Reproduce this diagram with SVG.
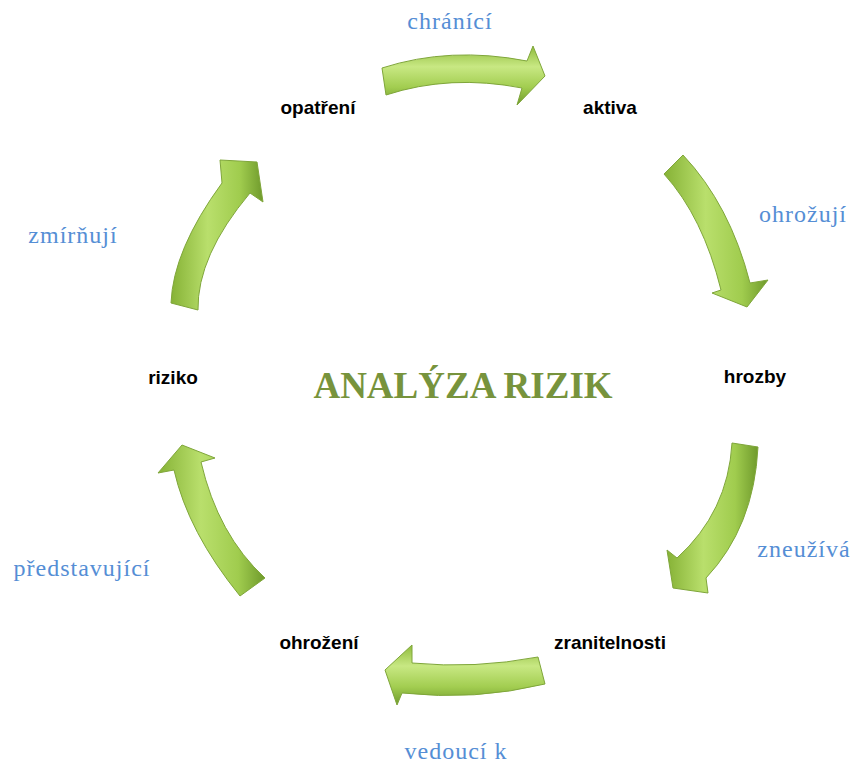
<svg xmlns="http://www.w3.org/2000/svg" width="854" height="766" viewBox="0 0 854 766">
<defs>
<linearGradient id="gH" x1="0" y1="0" x2="0" y2="1">
<stop offset="0" stop-color="#8fbb3c"/>
<stop offset="0.35" stop-color="#c8e883"/>
<stop offset="0.7" stop-color="#a2cd50"/>
<stop offset="1" stop-color="#6f9a2c"/>
</linearGradient>
<linearGradient id="gV" x1="0" y1="0" x2="1" y2="0">
<stop offset="0" stop-color="#86b236"/>
<stop offset="0.4" stop-color="#b9df6c"/>
<stop offset="0.75" stop-color="#a0cc4e"/>
<stop offset="1" stop-color="#6f9a2c"/>
</linearGradient>
<style>
.arr{stroke:#7fa63a;stroke-width:1;stroke-linejoin:round}
.node{font-family:"Liberation Sans",Arial,sans-serif;font-weight:bold;font-size:19px;fill:#000}
.lbl{font-family:"Liberation Serif","Times New Roman",serif;font-size:24px;letter-spacing:1px;fill:#558ed5}
.title{font-family:"Liberation Serif","Times New Roman",serif;font-weight:bold;font-size:37px;fill:#77933c}
</style>
</defs>
<g id="connectors">
<path class="arr" fill="url(#gH)" d="M382,68 Q450,46 527,61 L533,46 L545,76 L517,105 L522,88 Q450,74 386,95 Z"/>
<path class="arr" fill="url(#gV)" d="M664,174 L683,155 Q730,205 750,283 L768,280 L747,307 L712,293 L721,290 Q703,217 664,174 Z"/>
<path class="arr" fill="url(#gV)" d="M732,443 L758,447 Q754,527 706,578 L708,593 L673,588 L667,550 L677,558 Q728,512 732,443 Z"/>
<path class="arr" fill="url(#gH)" d="M538,657 L545,684 Q475,701 402,693 L397,705 L385,670 L412,645 L412,663 Q475,669 538,657 Z"/>
<path class="arr" fill="url(#gV)" d="M240,596 L265,578 Q218,535 201,462 L215,458 L182,445 L158,473 L174,470 Q188,532 240,596 Z"/>
<path class="arr" fill="url(#gV)" d="M198,310 L171,303 Q173,250 222,183 L220,160 L257,162 L263,202 L250,193 Q197,256 198,310 Z"/>
</g>
<g id="labels">
<text class="lbl" x="450" y="29" text-anchor="middle">chránící</text>
<text class="lbl" x="803" y="222" text-anchor="middle">ohrožují</text>
<text class="lbl" x="804" y="557" text-anchor="middle">zneužívá</text>
<text class="lbl" x="456" y="759" text-anchor="middle">vedoucí k</text>
<text class="lbl" x="82" y="576" text-anchor="middle">představující</text>
<text class="lbl" x="73" y="243" text-anchor="middle">zmírňují</text>
</g>
<g id="opatreni"><text class="node" x="318" y="114" text-anchor="middle">opatření</text></g>
<g id="aktiva"><text class="node" x="610" y="114" text-anchor="middle">aktiva</text></g>
<g id="hrozby"><text class="node" x="755" y="383" text-anchor="middle">hrozby</text></g>
<g id="zranitelnosti"><text class="node" x="610" y="649" text-anchor="middle">zranitelnosti</text></g>
<g id="ohrozeni"><text class="node" x="319" y="649" text-anchor="middle">ohrožení</text></g>
<g id="riziko"><text class="node" x="173" y="384" text-anchor="middle">riziko</text></g>
<g id="title"><text class="title" x="463" y="398" text-anchor="middle">ANALÝZA RIZIK</text></g>
</svg>
